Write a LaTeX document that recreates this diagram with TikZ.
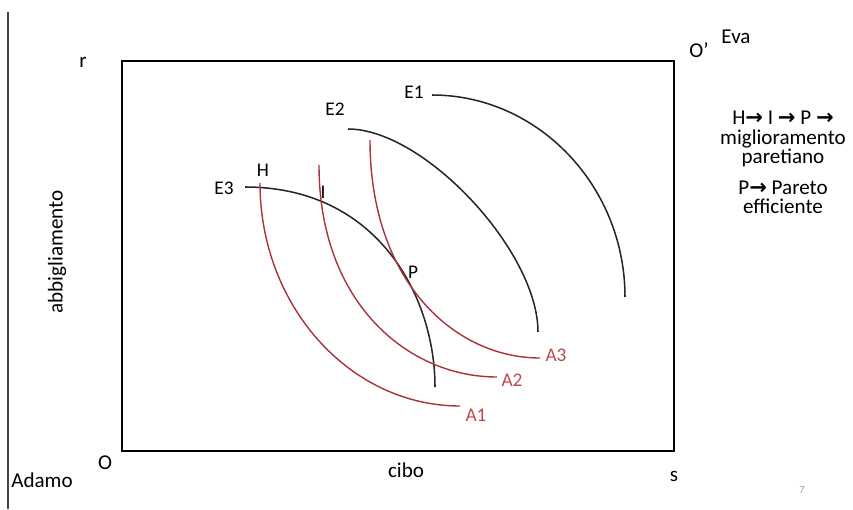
\documentclass[tikz,border=0pt]{standalone}
\usepackage{fontspec}
\setmainfont{Carlito}
\newfontfamily\arrowfont{DejaVu Sans}
\usepackage{tikz}
\usetikzlibrary{positioning}
\definecolor{adamred}{RGB}{170,50,58}
\definecolor{adamlabel}{RGB}{192,72,72}
\definecolor{slidegray}{RGB}{70,70,70}
\newcommand{\pto}{{\arrowfont\bfseries →}}

\begin{document}
\begin{tikzpicture}[x=0.03cm, y=-0.03cm,
    lbl/.style={inner sep=0pt, font=\fontsize{18}{20}\selectfont},
    clbl/.style={inner sep=0pt, font=\fontsize{16.5}{18}\selectfont},
    alabel/.style={clbl, text=adamlabel},
    ecurve/.style={line width=1.3pt, draw=black!85},
    acurve/.style={line width=1.2pt, draw=adamred},
    note/.style={inner sep=0pt, align=center, font=\fontsize{18}{16.5}\selectfont}
    ]
    \useasboundingbox (0,0) rectangle (853,509);

    % bordo della slide
    \coordinate (edgetop) at (8,12);
    \coordinate (edgebot) at (8,509);
    \draw[line width=1.5pt, slidegray] (edgetop) -- (edgebot);

    % scatola di Edgeworth
    \coordinate (O)      at (122,451);
    \coordinate (Oprime) at (674,61);
    \draw[line width=1.8pt] (O) rectangle (Oprime);

    \node[lbl] (r)      at (83,62)   {r};
    \node[lbl] (s)      at (674,476) {s};
    \node[lbl] (lblO)   at (105,463) {O};
    \node[lbl] (lblOp)  at (699,50)  {O’};
    \node[lbl] (adamo)  at (42,480)  {Adamo};
    \node[lbl] (eva)    at (736,37)  {Eva};
    \node[lbl] (cibo)   at (406,470) {cibo};
    \node[lbl, rotate=90] (abbig) at (57,252) {abbigliamento};

    % curve di indifferenza di Eva
    \coordinate (e1s) at (432,95);
    \coordinate (e1e) at (625,297);
    \coordinate (e2s) at (348,129);
    \coordinate (e2e) at (538,332);
    \coordinate (e3s) at (245,187);
    \coordinate (e3e) at (435,387);
    \draw[ecurve] (e1s) .. controls (538,95) and (625,186) .. (e1e);
    \draw[ecurve] (e2s) .. controls (424,129) and (538,251) .. (e2e);
    \draw[ecurve] (e3s) .. controls (378,187) and (435,297) .. (e3e);

    % curve di indifferenza di Adamo
    \coordinate (a1s) at (260,183);
    \coordinate (a1e) at (460,406);
    \coordinate (a2s) at (319,165);
    \coordinate (a2e) at (497,377);
    \coordinate (a3s) at (370,140);
    \coordinate (a3e) at (540,358);
    \draw[acurve] (a1s) .. controls (260,306) and (350,406) .. (a1e);
    \draw[acurve] (a2s) .. controls (319,303) and (408,377) .. (a2e);
    \draw[acurve] (a3s) .. controls (370,282) and (455,358) .. (a3e);

    \node[clbl] (e1lbl) at (414,92)  {E1};
    \node[clbl] (e2lbl) at (335,109) {E2};
    \node[clbl] (e3lbl) at (224,188) {E3};
    \node[alabel] (a1lbl) at (476,415) {A1};
    \node[alabel] (a2lbl) at (512,380) {A2};
    \node[alabel] (a3lbl) at (556,355) {A3};

    \node[clbl] (H) at (263,170) {H};
    \node[clbl] (I) at (323,192) {I};
    \node[clbl] (P) at (413,272) {P};

    % note a destra
    \node[note] (note1) at (783,139) {H\pto\ I \pto\ P \pto\\ miglioramento\\ paretiano};
    \node[note] (note2) at (783,197) {P\pto\ Pareto\\ efficiente};

    \node[inner sep=0pt, text=black!40, font=\fontsize{9}{10}\selectfont] (pagenum) at (802,490) {7};
\end{tikzpicture}
\end{document}
